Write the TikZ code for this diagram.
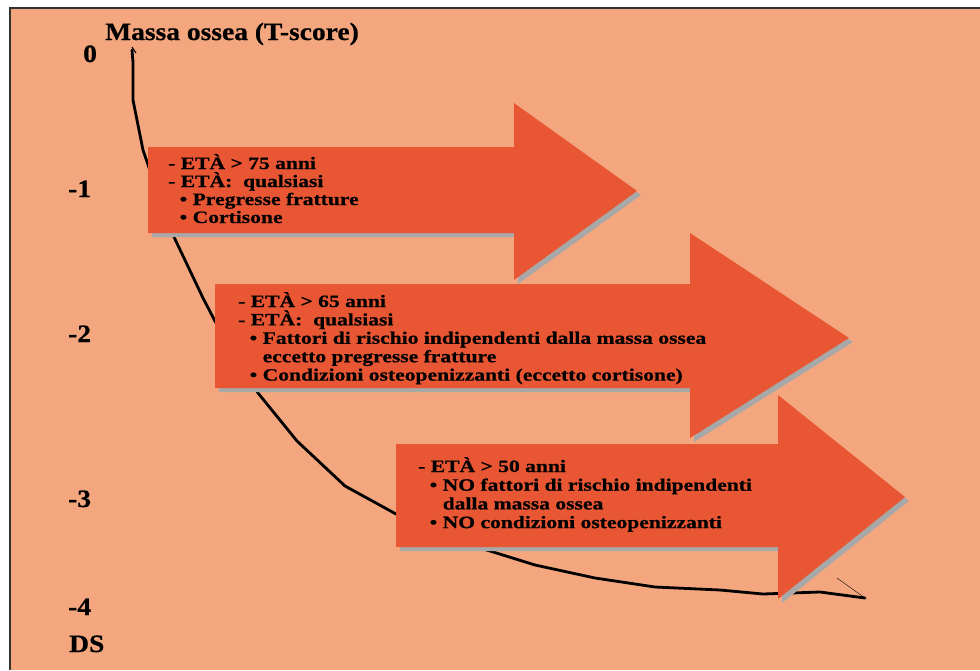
\documentclass[tikz,border=0pt]{standalone}
\usepackage{fontspec}
\setmainfont{Liberation Serif}
\newfontfamily\bodyfont[FakeStretch=1.24,FakeBold=0.6]{Liberation Serif}
\newfontfamily\titlefont[FakeStretch=1.1,FakeBold=0.6]{Liberation Serif}
\definecolor{bgsalmon}{RGB}{244,167,126}
\definecolor{arroworange}{RGB}{232,86,52}
\definecolor{shadowgray}{RGB}{168,168,168}
\definecolor{framegray}{RGB}{50,50,50}
\newcommand{\linesbox}[2]{\vtop{\lineskiplimit=-100pt\baselineskip=#1\relax #2}}
\newcommand{\bul}{\hspace*{11.5pt}\makebox[13pt][l]{•}}
\newcommand{\cont}{\hspace*{24.5pt}}
\begin{document}
\begin{tikzpicture}[x=1pt,y=-1pt,
  boxtext/.style={anchor=base west, inner sep=0pt, text=black,
    font=\bodyfont\bfseries\fontsize{17.4}{18}\selectfont},
  axislabel/.style={anchor=base west, inner sep=0pt, text=black,
    font=\titlefont\bfseries\fontsize{25}{25}\selectfont},
  bigarrow/.style={fill=arroworange},
  arrowshadow/.style={fill=shadowgray},
  curveline/.style={line width=2.8pt, line join=round, line cap=round, black}]
\useasboundingbox (0,0) rectangle (980,670);
% background
\fill[white] (0,0) rectangle (980,670);
\fill[bgsalmon] (10,8) rectangle (980,670);
\draw[framegray, line width=1.5pt] (10,670) -- (10,8) -- (980,8);
% curve
\draw[curveline] (132,50) -- (133,62) -- (133,100) -- (143,150) -- (160,200) -- (174,237)
  -- (203,298) -- (230,350) -- (258,393) -- (297,441) -- (345,486) -- (396,514)
  -- (445,538) -- (490,551) -- (535,565) -- (595,578) -- (655,587) -- (720,590)
  -- (763,594) -- (820,592) -- (865,598);
\draw[black, line width=1pt] (132,47) -- (136,53);
\draw[black, line width=0.4pt] (837,578) -- (865,598);
% arrow 1
\fill[arrowshadow, shift={(4,4)}] (148,147) -- (514,147) -- (514,103) -- (637,191) -- (514,280) -- (514,233) -- (148,233) -- cycle;
\fill[bigarrow] (148,147) -- (514,147) -- (514,103) -- (637,191) -- (514,280) -- (514,233) -- (148,233) -- cycle;
% arrow 2
\fill[arrowshadow, shift={(4,4)}] (215,284) -- (690,284) -- (690,233) -- (849,338) -- (690,438) -- (690,388) -- (215,388) -- cycle;
\fill[bigarrow] (215,284) -- (690,284) -- (690,233) -- (849,338) -- (690,438) -- (690,388) -- (215,388) -- cycle;
% arrow 3
\fill[arrowshadow, shift={(4,4)}] (396,444) -- (778,444) -- (778,395) -- (905,497) -- (778,599) -- (778,547) -- (396,547) -- cycle;
\fill[bigarrow] (396,444) -- (778,444) -- (778,395) -- (905,497) -- (778,599) -- (778,547) -- (396,547) -- cycle;
% texts
\node[axislabel] (title) at (105,40) {Massa ossea (T-score)};
\node[axislabel] (l0) at (83,62) {0};
\node[axislabel] (l1) at (68,197) {-1};
\node[axislabel] (l2) at (68,342) {-2};
\node[axislabel] (l3) at (68,507) {-3};
\node[axislabel] (l4) at (68,615) {-4};
\node[axislabel] (ds) at (69,652) {DS};
\node[boxtext] (t1) at (168,169) {\linesbox{18pt}{%
  \hbox{- ETÀ > 75 anni}%
  \hbox{- ETÀ:~ qualsiasi}%
  \hbox{\bul Pregresse fratture}%
  \hbox{\bul Cortisone}}};
\node[boxtext] (t2) at (238,307) {\linesbox{18.4pt}{%
  \hbox{- ETÀ > 65 anni}%
  \hbox{- ETÀ:~ qualsiasi}%
  \hbox{\bul Fattori di rischio indipendenti dalla massa ossea}%
  \hbox{\cont eccetto pregresse fratture}%
  \hbox{\bul Condizioni osteopenizzanti (eccetto cortisone)}}};
\node[boxtext] (t3) at (418,472) {\linesbox{18.7pt}{%
  \hbox{- ETÀ > 50 anni}%
  \hbox{\bul NO fattori di rischio indipendenti}%
  \hbox{\cont dalla massa ossea}%
  \hbox{\bul NO condizioni osteopenizzanti}}};
\end{tikzpicture}
\end{document}
